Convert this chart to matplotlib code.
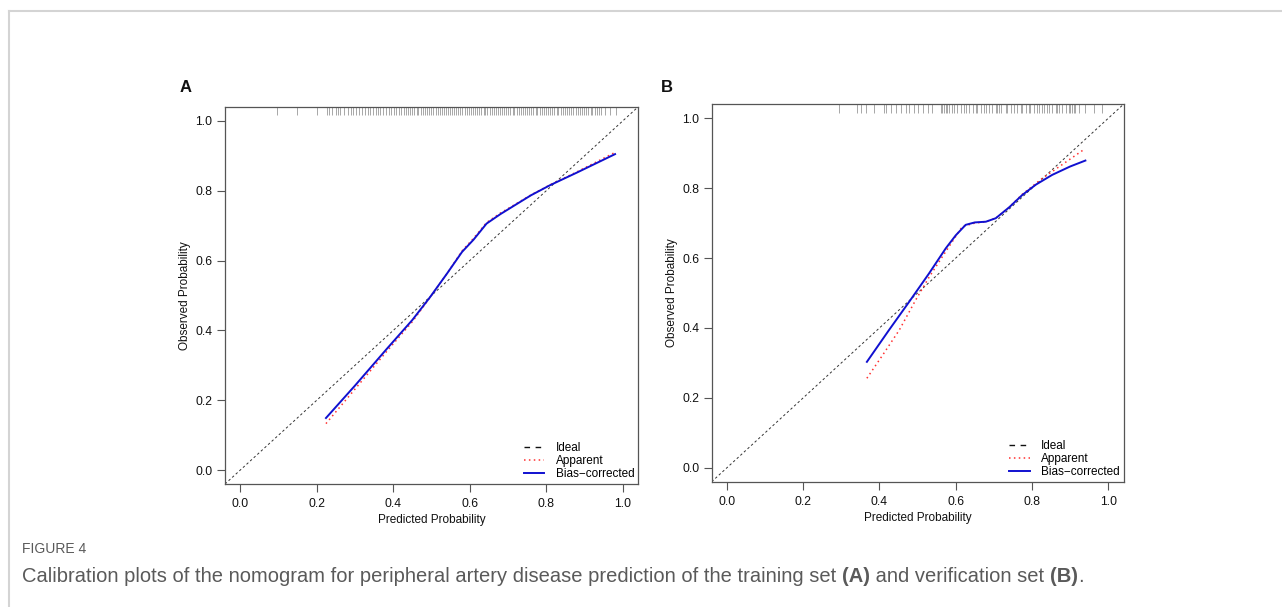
import matplotlib
matplotlib.use("Agg")
import matplotlib.pyplot as plt
from matplotlib.lines import Line2D
import matplotlib.transforms as mtransforms

# ---------------- data ----------------
# Panel A (training set)
a_x = [0.224, 0.30, 0.383, 0.45, 0.496, 0.54, 0.58, 0.61, 0.644, 0.68, 0.714, 0.76, 0.81, 0.88, 0.98]
a_bias = [0.149, 0.242, 0.347, 0.43, 0.495, 0.562, 0.625, 0.66, 0.706, 0.733, 0.756, 0.787, 0.816, 0.852, 0.905]
a_apparent = [0.133, 0.232, 0.340, 0.425, 0.494, 0.562, 0.628, 0.664, 0.709, 0.736, 0.758, 0.788, 0.817, 0.854, 0.910]
a_rug = [0.096, 0.148, 0.200, 0.226, 0.232, 0.241, 0.250, 0.256, 0.262, 0.270, 0.281, 0.289, 0.295,
         0.302, 0.311, 0.318, 0.326, 0.333, 0.338, 0.347, 0.355, 0.361, 0.366, 0.374, 0.382, 0.390,
         0.395, 0.401, 0.408, 0.414, 0.421, 0.427, 0.433, 0.438, 0.444, 0.449, 0.455, 0.461, 0.466,
         0.472, 0.477, 0.483, 0.488, 0.493, 0.499, 0.505, 0.511, 0.516, 0.521, 0.527, 0.533, 0.538,
         0.542, 0.548, 0.554, 0.559, 0.565, 0.570, 0.575, 0.581, 0.587, 0.592, 0.598, 0.603, 0.608,
         0.614, 0.619, 0.625, 0.630, 0.636, 0.641, 0.646, 0.652, 0.657, 0.663, 0.668, 0.673, 0.679,
         0.684, 0.690, 0.695, 0.701, 0.706, 0.712, 0.717, 0.723, 0.728, 0.733, 0.739, 0.744, 0.750,
         0.755, 0.761, 0.766, 0.772, 0.777, 0.783, 0.788, 0.794, 0.799, 0.805, 0.810, 0.816, 0.821,
         0.827, 0.832, 0.838, 0.843, 0.849, 0.854, 0.860, 0.866, 0.871, 0.877, 0.882, 0.888, 0.893,
         0.899, 0.905, 0.910, 0.916, 0.921, 0.927, 0.933, 0.938, 0.944, 0.955, 0.968, 0.983]

# Panel B (verification set)
b_x_bias = [0.367, 0.425, 0.478, 0.530, 0.574, 0.600, 0.626, 0.650, 0.679, 0.705, 0.740, 0.774, 0.810, 0.853, 0.900, 0.940]
b_bias = [0.303, 0.394, 0.475, 0.556, 0.628, 0.665, 0.695, 0.702, 0.704, 0.714, 0.745, 0.780, 0.810, 0.838, 0.862, 0.879]
b_x_app = [0.367, 0.410, 0.452, 0.495, 0.530, 0.565, 0.617, 0.650, 0.679, 0.705, 0.740, 0.774, 0.827, 0.880, 0.938]
b_apparent = [0.256, 0.325, 0.394, 0.480, 0.545, 0.604, 0.690, 0.700, 0.704, 0.714, 0.745, 0.782, 0.828, 0.868, 0.912]
b_rug = [0.295, 0.342, 0.351, 0.364, 0.386, 0.412, 0.417, 0.430, 0.443, 0.456, 0.469, 0.478, 0.491,
         0.500, 0.513, 0.526, 0.539, 0.561, 0.565, 0.569, 0.574, 0.578, 0.582, 0.591, 0.595, 0.604,
         0.613, 0.622, 0.626, 0.635, 0.644, 0.652, 0.657, 0.665, 0.674, 0.679, 0.687, 0.696, 0.705,
         0.709, 0.713, 0.718, 0.731, 0.735, 0.744, 0.753, 0.761, 0.770, 0.774, 0.783, 0.792, 0.796,
         0.805, 0.814, 0.818, 0.827, 0.831, 0.840, 0.844, 0.853, 0.862, 0.866, 0.870, 0.879, 0.888,
         0.897, 0.901, 0.905, 0.910, 0.914, 0.923, 0.940, 0.962, 0.984]

ticks = [0.0, 0.2, 0.4, 0.6, 0.8, 1.0]
tick_labels = ["0.0", "0.2", "0.4", "0.6", "0.8", "1.0"]
legend_labels = ["Ideal", "Apparent", "Bias\u2212corrected"]
panel_labels = ["A", "B"]
x_label = "Predicted Probability"
y_label = "Observed Probability"
caption_head = "FIGURE 4"
caption_parts = [("Calibration plots of the nomogram for peripheral artery disease prediction of the training set ", "normal"),
                 ("(A)", "bold"),
                 (" and verification set ", "normal"),
                 ("(B)", "bold"),
                 (".", "normal")]

# ---------------- figure ----------------
W, H = 1282, 607
fig = plt.figure(figsize=(W / 100, H / 100), dpi=100)
plt.rcParams['font.family'] = ['Liberation Sans', 'DejaVu Sans']

# card border (top and left)
fig.add_artist(Line2D([9 / W, 1.0], [1 - 11 / H, 1 - 11 / H], transform=fig.transFigure,
                      color="#d4d4d4", lw=1.5))
fig.add_artist(Line2D([9 / W, 9 / W], [1 - 11 / H, 0.0], transform=fig.transFigure,
                      color="#d4d4d4", lw=1.5))

axes_px = [(225, 107, 638, 484), (711.7, 104.3, 1123.5, 481.7)]
label_px = [180, 661]
panels = [
    (a_x, a_apparent, a_x, a_bias, a_rug),
    (b_x_app, b_apparent, b_x_bias, b_bias, b_rug),
]

for i, ((l, t, r, b), (xa, ya, xb, yb, rug)) in enumerate(zip(axes_px, panels)):
    ax = fig.add_axes([l / W, 1 - b / H, (r - l) / W, (b - t) / H])
    ax.set_xlim(-0.04, 1.04)
    ax.set_ylim(-0.04, 1.04)
    for s in ax.spines.values():
        s.set_color("#555555")
        s.set_linewidth(0.9)
    ax.set_xticks(ticks)
    ax.set_xticklabels(tick_labels)
    ax.set_yticks(ticks)
    ax.set_yticklabels(tick_labels)
    ax.tick_params(axis="both", direction="out", length=6, width=0.8, color="#555555",
                   labelsize=8.7, labelcolor="#111111")
    ax.tick_params(axis="x", pad=4)
    ax.tick_params(axis="y", pad=3)
    ax.set_xlabel(x_label, fontsize=8.5, labelpad=3, color="#111111")
    ax.set_ylabel(y_label, fontsize=8.5, labelpad=3, color="#111111")

    # ideal line
    ax.axline((0, 0), (1, 1), color="#333333", lw=0.7, linestyle=(0, (2.5, 2.5)))
    # apparent
    ax.plot(xa, ya, color="#ff3030", lw=1.1, linestyle=(0, (1, 2.2)))
    # bias-corrected
    ax.plot(xb, yb, color="#1010d0", lw=1.4)
    # rug
    trans = mtransforms.blended_transform_factory(ax.transData, ax.transAxes)
    ax.vlines(rug, 1.0, 0.978, transform=trans, color="#999999", lw=0.6)

    handles = [Line2D([], [], color="#111111", lw=1.0, linestyle=(0, (4, 4))),
               Line2D([], [], color="#ff3030", lw=1.1, linestyle=(0, (1, 2.2))),
               Line2D([], [], color="#1010d0", lw=1.4)]
    ax.legend(handles, legend_labels, loc="lower right", frameon=False, fontsize=8.5,
              handlelength=1.7, handletextpad=1.0, labelspacing=0.1,
              borderaxespad=0.1, borderpad=0.2)

    fig.text(label_px[i] / W, 1 - 87 / H, panel_labels[i], fontsize=12, fontweight="bold",
             ha="left", va="center", color="#111111")

# caption
cap_font = ['Liberation Sans', 'DejaVu Sans']
fig.text(22 / W, 1 - 549 / H, caption_head, fontsize=10, color="#5a5a5a",
         family=cap_font, va="center", ha="left")

renderer = fig.canvas.get_renderer()
x0 = 22
for txt, wt in caption_parts:
    tx = fig.text(x0 / W, 1 - 577 / H, txt, fontsize=14.5, color="#5a5a5a",
                  family=cap_font, fontweight=wt, va="center", ha="left")
    bb = tx.get_window_extent(renderer=renderer)
    x0 += bb.width

fig.savefig("out.png", dpi=100)
